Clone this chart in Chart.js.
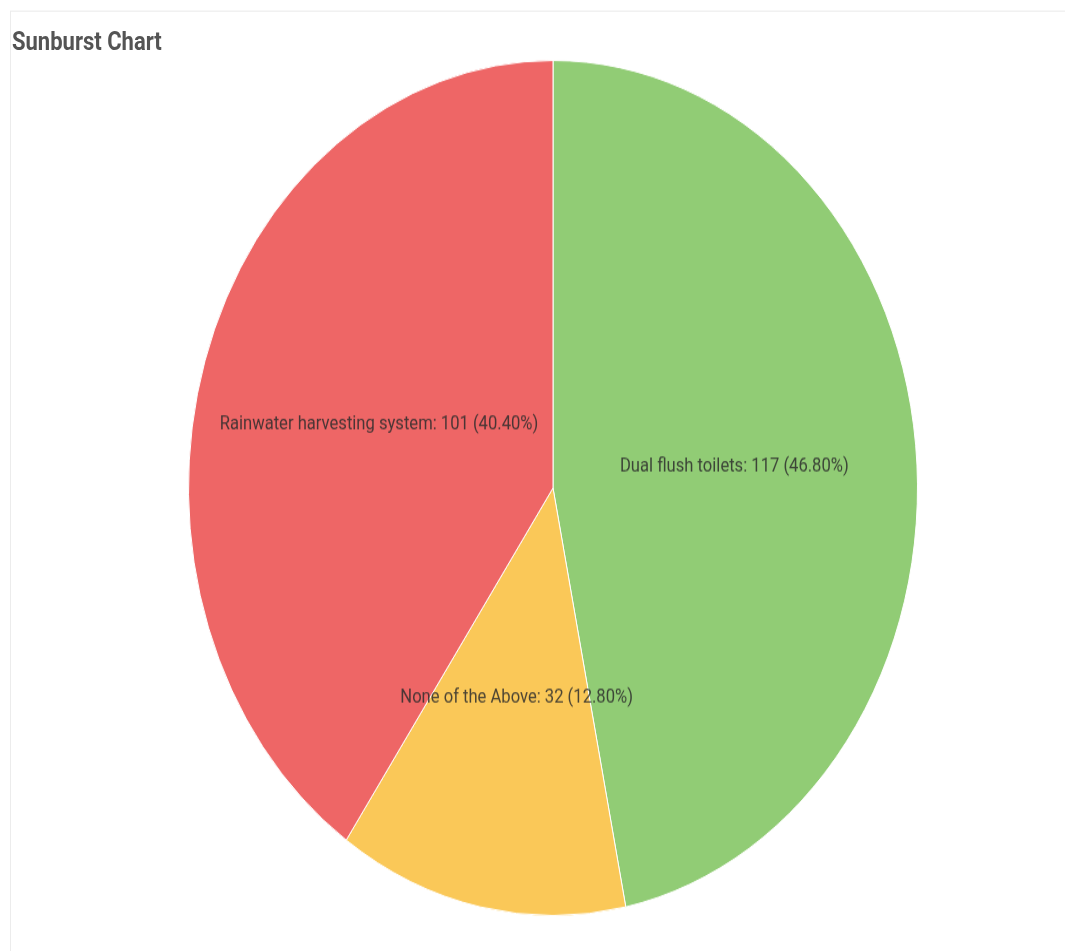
<!DOCTYPE html>
<html>
<head>
<meta charset="utf-8">
<script src="https://cdn.jsdelivr.net/npm/chart.js@4.4.1/dist/chart.umd.min.js"></script>
<style>
  html, body { margin: 0; padding: 0; background: #fff; width: 1065px; height: 951px; overflow: hidden; }
  #page {
    position: absolute; left: 0; top: 0; width: 1065px; height: 811px;
    transform: scaleY(1.173); transform-origin: 0 0;
  }
  #card {
    position: absolute; left: 10px; top: 8.5px; right: -5px; bottom: -20px;
    border: 1px solid #ececec;
  }
  #title {
    position: absolute; left: 12px; top: 23px;
    font: bold 22px Roboto, sans-serif; color: #545454;
  }
  #chart { position: absolute; left: 188px; top: 51px; }
</style>
</head>
<body>
<div id="page">
  <div id="card"></div>
  <div id="title">Sunburst Chart</div>
  <canvas id="chart" width="730" height="730"></canvas>
</div>
<script>
const labels = ["Dual flush toilets", "None of the Above", "Rainwater harvesting system"];
const values = [117, 32, 101];
const colors = ["#91cc75", "#fac858", "#ee6666"];

const total = values.reduce((a, b) => a + b, 0);

const sliceLabels = {
    id: "sliceLabels",
    afterDatasetsDraw(chart) {
        const ctx = chart.ctx;
        const meta = chart.getDatasetMeta(0);
        ctx.save();
        ctx.font = "16.6px Roboto";
        ctx.fillStyle = "rgba(45,45,45,0.85)";
        ctx.textAlign = "center";
        ctx.textBaseline = "middle";
        meta.data.forEach((arc, i) => {
            const pos = arc.tooltipPosition();
            const pct = (values[i] / total * 100).toFixed(2);
            ctx.fillText(labels[i] + ": " + values[i] + " (" + pct + "%)", pos.x, pos.y);
        });
        ctx.restore();
    }
};

new Chart(document.getElementById("chart"), {
    type: "pie",
    data: {
        labels: labels,
        datasets: [{
            data: values,
            backgroundColor: colors,
            borderColor: "#fff",
            borderWidth: 1
        }]
    },
    options: {
        responsive: false,
        animation: false,
        layout: { padding: 0 },
        plugins: {
            legend: { display: false },
            tooltip: { enabled: false }
        }
    },
    plugins: [sliceLabels]
});
</script>
</body>
</html>
